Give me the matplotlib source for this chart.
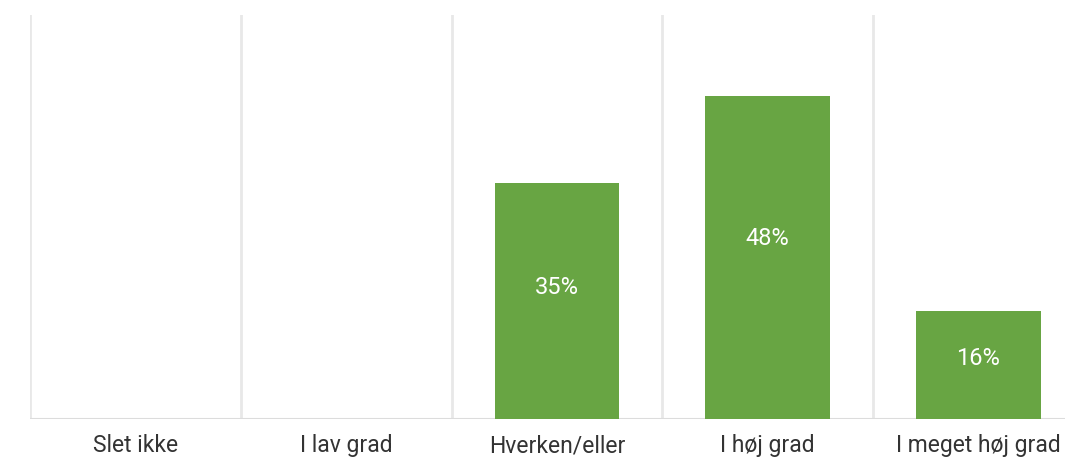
import matplotlib
matplotlib.use("Agg")
from matplotlib import pyplot as plt
import numpy as np

categories = ['Slet ikke', 'I lav grad', 'Hverken/eller', 'I høj grad', 'I meget høj grad']
values = [0, 0, 35, 48, 16]
labels = ['', '', '35%', '48%', '16%']

plt.rcParams['font.family'] = ['Roboto', 'DejaVu Sans']

fig = plt.figure(figsize=(10.65, 4.57), dpi=100)
ax = fig.add_axes([30 / 1065, 38 / 457, 5 * 210.75 / 1065, 404 / 457])

x = np.arange(len(categories))
ax.bar(x, values, width=0.59, color='#68a543', zorder=3)

for xi, v, lab in zip(x, values, labels):
    if lab:
        ax.text(xi, v * 0.56, lab, ha='center', va='center', color='white',
                fontsize=17, zorder=4)

ax.set_xlim(-0.5, len(categories) - 0.5)
ax.set_ylim(0, 60)

# category separators
for b in np.arange(-0.5, len(categories) - 0.5, 1.0):
    ax.axvline(b, color='#e8e8e8', lw=2, zorder=1)
ax.axhline(0, color='#dcdcdc', lw=1.5, zorder=2)

ax.set_xticks(x)
ax.set_xticklabels(categories, fontsize=16.5, color='#333333')
ax.tick_params(axis='x', length=0, pad=11)
ax.set_yticks([])
for s in ax.spines.values():
    s.set_visible(False)

fig.savefig('out.png', dpi=100)
